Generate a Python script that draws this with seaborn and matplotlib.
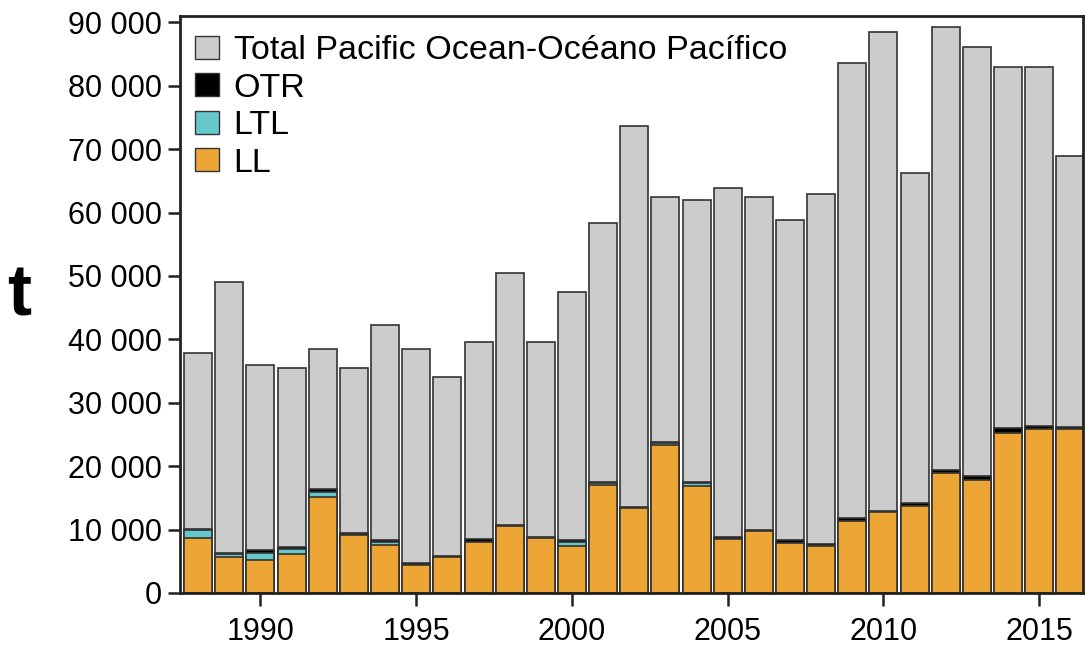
import pandas as pd
import matplotlib
matplotlib.use("Agg")
import matplotlib.pyplot as plt
import seaborn as sns
from matplotlib.patches import Patch
from matplotlib.ticker import FuncFormatter

# Datos (toneladas por año)
years = list(range(1988, 2017))
total = [37900, 49100, 36000, 35500, 38500, 35500, 42200, 38500, 34100, 39600,
         50400, 39600, 47400, 58300, 73700, 62500, 62000, 63800, 62500, 58800,
         62900, 83600, 88500, 66200, 89200, 86100, 83000, 83000, 68900]
ll = [8600, 5700, 5200, 6200, 15100, 9100, 7600, 4400, 5700, 8000,
      10500, 8600, 7350, 17000, 13450, 23300, 16900, 8500, 9700, 7900,
      7400, 11400, 12700, 13700, 18900, 17900, 25200, 25900, 25900]
ltl = [1300, 400, 1150, 750, 900, 0, 500, 0, 0, 0,
       0, 0, 700, 400, 0, 400, 400, 0, 0, 0,
       0, 0, 0, 0, 0, 0, 0, 0, 0]
otr = [250, 150, 400, 250, 350, 400, 250, 400, 200, 450,
       150, 300, 250, 150, 150, 150, 200, 400, 300, 400,
       350, 350, 300, 500, 550, 550, 800, 450, 250]
series_names = ['Total Pacific Ocean-Océano Pacífico', 'OTR', 'LTL', 'LL']
colores = ['#cccccc', '#000000', '#66c8cb', '#eda535']

df = pd.DataFrame({'year': years, 'total': total, 'LL': ll, 'LTL': ltl, 'OTR': otr})
# acumulados para apilar dibujando desde cero
df['cum_ltl'] = df['LL'] + df['LTL']
df['cum_otr'] = df['cum_ltl'] + df['OTR']

sns.set_style("ticks")
plt.rcParams['font.family'] = ['Liberation Sans', 'DejaVu Sans']

fig = plt.figure(figsize=(10.85, 6.49), dpi=100)
ax = fig.add_axes([0.166, 0.0863, 0.832, 0.889])

capas = [('total', colores[0]), ('cum_otr', colores[1]), ('cum_ltl', colores[2]), ('LL', colores[3])]
for col, c in capas:
    sns.barplot(data=df, x='year', y=col, native_scale=True, width=0.9, color=c,
                saturation=1, edgecolor='#333333', linewidth=1.2, ax=ax)

ax.set_xlim(1987.42, 2016.4)
ax.set_ylim(0, 91000)
ax.set_xticks([1990, 1995, 2000, 2005, 2010, 2015])
ax.set_yticks(range(0, 90001, 10000))
ax.yaxis.set_major_formatter(FuncFormatter(lambda v, p: f"{int(v):,}".replace(",", " ")))
ax.tick_params(axis='both', labelsize=22, length=9, width=1.8, color='#222222',
               labelcolor='black', pad=4)
ax.tick_params(axis='x', pad=8)
ax.set_xlabel('')
ax.set_ylabel('')
for s in ax.spines.values():
    s.set_visible(True)
    s.set_linewidth(2)
    s.set_color('#222222')

fig.text(0.0175, 0.543, 't', fontsize=52, fontweight='bold', color='black',
         ha='center', va='center')

handles = [Patch(facecolor=c, edgecolor='#333333', linewidth=1.0) for c in colores]
leg = ax.legend(handles, series_names, loc='upper left', bbox_to_anchor=(0.0, 0.993),
                frameon=False, fontsize=24.5, handlelength=0.7, handleheight=0.66,
                handletextpad=0.42, labelspacing=0.19, borderaxespad=0.25, borderpad=0.2)
for t in leg.get_texts():
    t.set_color('black')

fig.savefig('out.png', dpi=100)
